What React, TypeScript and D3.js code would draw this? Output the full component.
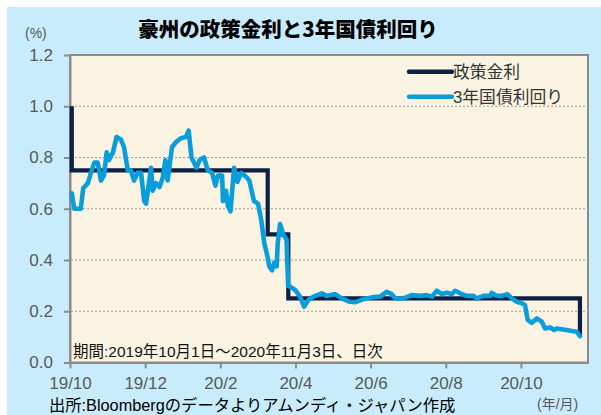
import { useEffect, useRef } from "react";
import * as d3 from "d3";

// x values are business-day positions counted from 2019/10/1 (category axis)
const yTicks = [0, 0.2, 0.4, 0.6, 0.8, 1.0, 1.2];
const xTickDays = [0, 42, 84, 126, 168, 210, 252];
const xTickLabels = ["19/10", "19/12", "20/2", "20/4", "20/6", "20/8", "20/10"];

const policyRate: [number, number][] = [
  [1, 1.0], [1, 0.75], [110.5, 0.5], [122, 0.25], [285, 0.1]
];

const bond3y: [number, number][] = [
  [1, 0.66], [2.4, 0.6], [6, 0.6], [7.4, 0.68], [10, 0.7], [11.7, 0.74], [13.6, 0.78], [15.5, 0.78],
  [17.3, 0.71], [19, 0.73], [20.5, 0.82], [21.8, 0.79], [24, 0.82], [26, 0.88], [28.5, 0.87],
  [30.2, 0.84], [32.3, 0.75], [34, 0.75], [35.8, 0.71], [37.8, 0.74], [39.7, 0.74], [41.5, 0.63],
  [42.5, 0.62], [44.3, 0.71], [45.3, 0.76], [46.2, 0.67], [48, 0.7], [50, 0.685], [51.8, 0.72],
  [53.3, 0.79], [54.6, 0.71], [57, 0.84], [59.2, 0.86], [62, 0.875], [64.8, 0.88], [66.3, 0.905],
  [67.9, 0.8], [70.7, 0.76], [72.4, 0.79], [74.9, 0.8], [77, 0.75], [79.4, 0.74], [81.3, 0.69],
  [82.7, 0.73], [85, 0.73], [85.5, 0.63], [87.2, 0.67], [88.3, 0.61], [89.7, 0.59], [91.7, 0.76],
  [93.6, 0.705], [95.6, 0.74], [98.4, 0.725], [100.2, 0.71], [102.8, 0.63], [105.1, 0.62],
  [106.9, 0.555], [108.6, 0.465], [110.5, 0.41], [111.4, 0.375], [112.9, 0.36], [114.2, 0.39],
  [115.5, 0.375], [116.1, 0.465], [117.4, 0.54], [119.2, 0.5], [121, 0.48], [121.9, 0.3],
  [123, 0.296], [125.8, 0.283], [128.6, 0.257], [130.8, 0.218], [133.2, 0.244], [136, 0.257],
  [140.7, 0.27], [143.5, 0.26], [148.1, 0.267], [151.9, 0.25], [156.5, 0.237], [159.3, 0.235],
  [163.9, 0.247], [168.6, 0.254], [173.3, 0.257], [177, 0.276], [179.8, 0.267], [181.7, 0.25],
  [186.3, 0.25], [191, 0.263], [195.6, 0.26], [199.4, 0.263], [202.2, 0.257], [205, 0.28],
  [207.8, 0.267], [210.6, 0.272], [213.4, 0.267], [215.2, 0.28], [218, 0.27], [221.7, 0.26],
  [225.4, 0.26], [227.3, 0.25], [231, 0.26], [234.8, 0.26], [235.7, 0.272], [238.5, 0.26],
  [241.3, 0.26], [244.4, 0.267], [246.9, 0.25], [249.7, 0.237], [252.5, 0.231], [254.3, 0.224],
  [255.8, 0.166], [258.1, 0.155], [260.9, 0.172], [263.7, 0.159], [265.5, 0.133], [268.3, 0.137],
  [270.5, 0.127], [272, 0.133], [274.8, 0.13], [277.6, 0.127], [280.4, 0.123], [283.2, 0.12],
  [285, 0.103]
];

const legendItems = [
  { label: "政策金利", color: "#0c2046" },
  { label: "3年国債利回り", color: "#0a9ddb" }
];

const latin = "'Liberation Sans', Arial, 'Noto Sans CJK JP', sans-serif";

export default function App() {
  const ref = useRef<SVGSVGElement>(null);

  useEffect(() => {
    if (!ref.current) return;
    const width = 601;
    const height = 415;
    const plot = { left: 70, right: 588, top: 55, bottom: 362.5 };

    const svg = d3.select(ref.current);
    svg.selectAll("*").remove();
    svg.attr("width", width).attr("height", height);

    const x = d3.scaleLinear().domain([0, 289.5]).range([plot.left, plot.right]);
    const y = d3.scaleLinear().domain([0, 1.2]).range([plot.bottom, plot.top]);

    svg.append("rect").attr("width", width).attr("height", height).attr("fill", "#ffffff");
    svg.append("rect").attr("x", 7).attr("y", 7).attr("width", width - 7).attr("height", height - 7).attr("fill", "#c8ecfc");

    svg
      .append("rect")
      .attr("x", plot.left)
      .attr("y", plot.top)
      .attr("width", plot.right - plot.left)
      .attr("height", plot.bottom - plot.top)
      .attr("fill", "#fbf3e1")
      .attr("stroke", "#8c8c8c")
      .attr("stroke-width", 2);

    svg
      .append("g")
      .selectAll("line")
      .data(yTicks.filter((t) => t > 0 && t < 1.2))
      .join("line")
      .attr("x1", plot.left + 1)
      .attr("x2", plot.right - 1)
      .attr("y1", (d) => y(d))
      .attr("y2", (d) => y(d))
      .attr("stroke", "#9a9a9a")
      .attr("stroke-width", 1)
      .attr("stroke-dasharray", "2,2");

    const yAxis = svg
      .append("g")
      .attr("transform", `translate(${plot.left},0)`)
      .call(d3.axisLeft(y).tickValues(yTicks).tickFormat(d3.format(".1f")).tickSize(6).tickSizeOuter(0).tickPadding(11));
    yAxis.selectAll("path, line").attr("stroke", "#8c8c8c").attr("stroke-width", 2);
    yAxis.selectAll("text").attr("fill", "#595959").style("font-size", "17px").style("font-family", latin);

    const xAxis = svg
      .append("g")
      .attr("transform", `translate(0,${plot.bottom})`)
      .call(
        d3
          .axisBottom(x)
          .tickValues(xTickDays)
          .tickFormat((d, i) => xTickLabels[i])
          .tickSize(6)
          .tickSizeOuter(0)
          .tickPadding(8)
      );
    xAxis.selectAll("path, line").attr("stroke", "#8c8c8c").attr("stroke-width", 2);
    xAxis.selectAll("text").attr("fill", "#595959").style("font-size", "17px").style("font-family", latin);

    const line = d3
      .line<[number, number]>()
      .x((d) => x(d[0]))
      .y((d) => y(d[1]));

    svg
      .append("path")
      .datum(policyRate)
      .attr("fill", "none")
      .attr("stroke", legendItems[0].color)
      .attr("stroke-width", 4.2)
      .attr("stroke-linejoin", "miter")
      .attr("d", line.curve(d3.curveStepAfter));

    svg
      .append("path")
      .datum(bond3y)
      .attr("fill", "none")
      .attr("stroke", legendItems[1].color)
      .attr("stroke-width", 4.6)
      .attr("stroke-linejoin", "round")
      .attr("stroke-linecap", "round")
      .attr("d", line.curve(d3.curveLinear));

    // legend
    const legend = svg
      .append("g")
      .selectAll("g")
      .data(legendItems)
      .join("g")
      .attr("transform", (d, i) => `translate(409,${71.7 + i * 25})`);
    legend
      .append("line")
      .attr("x1", 0)
      .attr("x2", 43)
      .attr("stroke", (d) => d.color)
      .attr("stroke-width", 4.4)
      .attr("stroke-linecap", "round");
    legend
      .append("text")
      .attr("x", 44)
      .attr("y", 6)
      .attr("fill", "#333333")
      .style("font-size", "16.8px")
      .style("font-family", latin)
      .text((d) => d.label);

    svg
      .append("text")
      .attr("x", 288)
      .attr("y", 37)
      .attr("text-anchor", "middle")
      .attr("fill", "#000")
      .style("font-size", "20.5px")
      .style("font-weight", "900")
      .style("font-family", "'Noto Sans CJK JP', sans-serif")
      .text("豪州の政策金利と3年国債利回り");

    svg
      .append("text")
      .attr("x", 25)
      .attr("y", 38)
      .attr("fill", "#595959")
      .style("font-size", "14px")
      .style("font-family", latin)
      .text("(%)");

    svg
      .append("text")
      .attr("x", 73)
      .attr("y", 357)
      .attr("fill", "#111")
      .style("font-size", "15.5px")
      .style("font-family", latin)
      .text("期間:2019年10月1日～2020年11月3日、日次");

    svg
      .append("text")
      .attr("x", 49)
      .attr("y", 411)
      .attr("fill", "#000")
      .style("font-size", "16.3px")
      .style("font-family", latin)
      .text("出所:Bloombergのデータよりアムンディ・ジャパン作成");

    svg
      .append("text")
      .attr("x", 537)
      .attr("y", 409)
      .attr("fill", "#595959")
      .style("font-size", "14px")
      .style("font-family", latin)
      .text("(年/月)");
  }, []);

  return <svg ref={ref} style={{ position: "absolute", left: 0, top: 0, display: "block" }} />;
}
